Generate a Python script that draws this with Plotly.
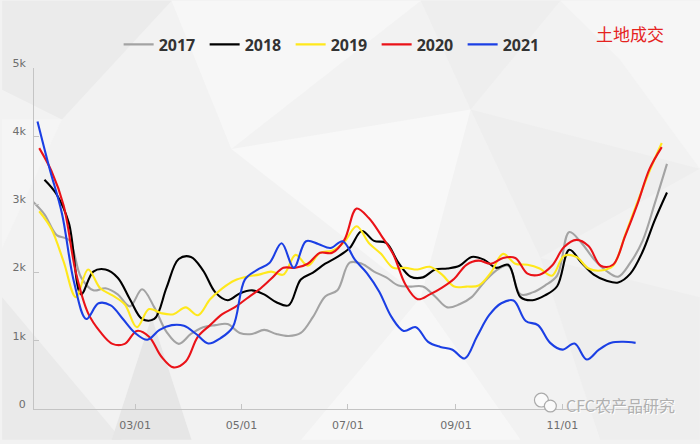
import pandas as pd
import plotly.graph_objects as go

# weekly series
v2017 = [3050, 2855, 2550, 2480, 1930, 1740, 1770, 1680, 1505, 1755,
         1490, 1130, 955, 1100, 1200, 1230, 1245, 1115, 1100, 1160,
         1100, 1070, 1115, 1350, 1650, 1740, 2145, 2130, 2015, 1930,
         1810, 1795, 1795, 1650, 1490, 1535, 1640, 1855, 2030, 2100,
         1680, 1710, 1810, 1955, 2595, 2435, 2200, 2030, 1940, 2145,
         2465, 3015, 3595]
v2018 = [3360, 3145, 2725, 1680, 2015, 2045, 1925, 1610, 1320, 1320,
         1780, 2200, 2230, 2030, 1710, 1595, 1695, 1740, 1680, 1565,
         1520, 1900, 2000, 2130, 2230, 2360, 2610, 2465, 2435, 2145,
         1940, 1930, 2045, 2060, 2100, 2230, 2190, 2070, 2115, 1640,
         1595, 1665, 1800, 2335, 2145, 1970, 1885, 1855, 1985, 2305,
         2770, 3175]
v2019 = [2900, 2640, 2160, 1640, 2045, 1770, 1665, 1535, 1200, 1465,
         1405, 1390, 1490, 1375, 1610, 1770, 1885, 1940, 1970, 2015,
         1970, 2260, 2100, 2290, 2320, 2450, 2680, 2435, 2275, 2070,
         2070, 2045, 2085, 1970, 1795, 1795, 1810, 2000, 2275, 2130,
         2115, 2060, 1955, 2245, 2230, 2060, 2030, 2100, 2550, 3030,
         3490, 3900]
v2020 = [3825, 3490, 2985, 2000, 1405, 1130, 955, 955, 1145, 1060,
         770, 610, 695, 1060, 1230, 1390, 1490, 1620, 1750, 1910,
         2070, 2070, 2130, 2290, 2290, 2480, 2940, 2800, 2550, 2270,
         1825, 1610, 1680, 1780, 1910, 2115, 2175, 2130, 2215, 2215,
         1985, 1970, 2100, 2375, 2480, 2390, 2100, 2115, 2535, 3000,
         3520, 3840]
v2021 = [4217, 3520, 2870, 1855, 1320, 1550, 1520, 1320, 1115, 1015,
         1160, 1230, 1220, 1100, 960, 1040, 1200, 1900, 2040, 2140,
         2430, 2070, 2460, 2420, 2360, 2460, 2190, 1990, 1720, 1350,
         1145, 1200, 985, 910, 870, 740, 1060, 1375, 1550, 1590,
         1290, 1230, 970, 870, 960, 725, 870, 970, 985, 970]

years = ['2017', '2018', '2019', '2020', '2021']
values = [v2017, v2018, v2019, v2020, v2021]
# first week of each year, mapped onto one common calendar
starts = ['2021-01-01', '2021-01-08', '2021-01-05', '2021-01-05', '2021-01-04']
colors = ['#a3a3a3', '#000000', '#ffe81c', '#ea1218', '#1b3fe4']

W, H = 700, 444
L, R, T, B = 32, 32, 68, 31
PW, PH = W - L - R, H - T - B


def paper(px, py):
    # pixel position on the page -> paper coordinates
    return (px - L) / PW, (H - B - py) / PH


def poly(points, color):
    pts = [paper(x, y) for x, y in points]
    path = 'M' + ' L'.join('%.4f,%.4f' % p for p in pts) + ' Z'
    return dict(type='path', path=path, xref='paper', yref='paper',
                fillcolor=color, line=dict(width=0), layer='below')


fig = go.Figure()
for name, vals, start, col in zip(years, values, starts, colors):
    x = pd.date_range(start, periods=len(vals), freq='7D')
    fig.add_trace(go.Scatter(x=x, y=vals, name=name, mode='lines',
                             line=dict(color=col, width=2.1, shape='spline',
                                       smoothing=1)))

# faint low-poly background
shapes = [
    poly([(0, 0), (170, 0), (60, 120), (0, 90)], '#ebebeb'),
    poly([(170, 0), (420, 0), (230, 150)], '#f7f7f7'),
    poly([(420, 0), (560, 0), (470, 110)], '#eeeeee'),
    poly([(560, 0), (700, 0), (700, 170), (620, 60)], '#f6f6f6'),
    poly([(470, 110), (700, 170), (540, 260)], '#eeeeee'),
    poly([(230, 150), (470, 110), (420, 300)], '#f8f8f8'),
    poly([(0, 300), (120, 444), (0, 444)], '#eaeaea'),
    poly([(110, 444), (150, 320), (190, 444)], '#e6e6e6'),
    poly([(300, 444), (420, 300), (520, 444)], '#f7f7f7'),
    poly([(540, 260), (700, 300), (700, 444), (600, 444)], '#eeeeee'),
    poly([(0, 120), (60, 120), (0, 250)], '#f5f5f5'),
]
# wechat-like bubbles next to the watermark
for cx, cy, r in [(541, 404, 7), (550, 410, 6)]:
    x0, y0 = paper(cx - r, cy - r)
    x1, y1 = paper(cx + r, cy + r)
    shapes.append(dict(type='circle', xref='paper', yref='paper',
                       x0=x0, x1=x1, y0=y1, y1=y0, fillcolor='#fafafa',
                       line=dict(color='#aaaaaa', width=1.2), layer='above'))

tx, ty = paper(666, 33)
wx, wy = paper(677, 409)
fig.update_layout(
    width=W, height=H,
    margin=dict(l=L, r=R, t=T, b=B),
    paper_bgcolor='#f2f2f2',
    plot_bgcolor='rgba(0,0,0,0)',
    shapes=shapes,
    showlegend=True,
    legend=dict(orientation='h', x=0.1335, xanchor='left', y=1.069,
                yanchor='middle', bgcolor='rgba(0,0,0,0)',
                entrywidth=41, entrywidthmode='pixels', itemwidth=30,
                font=dict(family='Open Sans', size=16, color='#333333',
                          weight='bold')),
    annotations=[
        dict(text='土地成交', x=tx, y=ty, xref='paper', yref='paper',
             xanchor='right', yanchor='middle', showarrow=False,
             font=dict(family='Noto Sans CJK SC', size=17, color='#e5231f')),
        dict(text='CFC农产品研究', x=wx, y=wy, xref='paper', yref='paper',
             xanchor='right', yanchor='middle', showarrow=False,
             font=dict(family='Noto Sans CJK SC', size=16, color='#b0b0b0',
                       shadow='1px 1px 0px #ffffff')),
    ],
    xaxis=dict(type='date', range=['2021-01-02', '2021-12-31 14:00'],
               tick0='2021-03-01', dtick='M2', tickformat='%m/%d',
               showgrid=False, zeroline=False, showline=True,
               linecolor='#c4c4c4', linewidth=1, ticks='inside',
               ticklen=5, tickcolor='#c4c4c4', ticklabelstandoff=6,
               tickfont=dict(family='DejaVu Sans', size=11, color='#6e6e6e')),
    yaxis=dict(range=[0, 5000], dtick=1000, tickformat='~s',
               showgrid=False, zeroline=False, showline=True,
               linecolor='#c4c4c4', linewidth=1, ticks='inside',
               ticklen=5, tickcolor='#c4c4c4', ticklabelstandoff=5,
               ticklabelshift=-5,
               tickfont=dict(family='DejaVu Sans', size=11, color='#6e6e6e')),
)

# the page body has a default margin; drop it so the chart sits at 0,0
fig.write_html("out.html", config={'displayModeBar': False},
               post_script="document.body.style.margin='0px';")
